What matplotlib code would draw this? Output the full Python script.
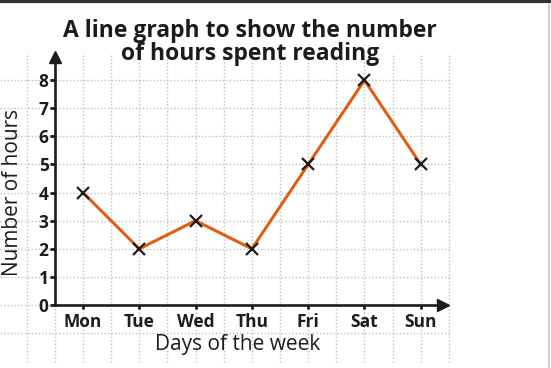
import matplotlib.pyplot as plt
from matplotlib.lines import Line2D

days = ["Mon", "Tue", "Wed", "Thu", "Fri", "Sat", "Sun"]
hours = [4, 2, 3, 2, 5, 8, 5]
y_ticks = [0, 1, 2, 3, 4, 5, 6, 7, 8]

plt.rcParams['font.family'] = ['Open Sans', 'DejaVu Sans']
ink = '#1c1c1c'

fig = plt.figure(figsize=(5.51, 3.68), dpi=100)
ax = fig.add_axes([0, 0, 1, 1])
ax.set_xlim(-1.474, 8.313)
ax.set_ylim(-2.242, 10.854)
ax.patch.set_alpha(0)

# dotted squared paper behind the graph
grid_kw = dict(color='#c0c0c0', linestyle=(0, (1, 1.5)), linewidth=1, zorder=0)
for gy in range(-1, 9):
    ax.plot([-1.474, 6.5], [gy, gy], **grid_kw)
for k in range(16):
    gx = -1 + 0.5 * k
    ax.plot([gx, gx], [-2.03, 8.97], **grid_kw)

# axes with arrows
for s in ['top', 'right']:
    ax.spines[s].set_visible(False)
ax.spines['left'].set_position(('data', -0.5))
ax.spines['left'].set_bounds(0, 8.8)
ax.spines['bottom'].set_position(('data', 0))
ax.spines['bottom'].set_bounds(-0.5, 6.35)
for s in ['left', 'bottom']:
    ax.spines[s].set_linewidth(1.9)
    ax.spines[s].set_color(ink)
ax.plot(-0.5, 8.81, marker='^', ms=9, color=ink, clip_on=False, zorder=5)
ax.plot(6.40, 0, marker='>', ms=9, color=ink, clip_on=False, zorder=5)

ax.set_xticks(range(len(days)), days)
ax.set_yticks(y_ticks)
ax.tick_params(axis='x', direction='out', length=3, width=2, pad=2.5, colors=ink, labelsize=12.5)
ax.tick_params(axis='y', direction='out', length=3.5, width=2, pad=1, colors=ink, labelsize=12.5)
for lab in ax.get_xticklabels() + ax.get_yticklabels():
    lab.set_fontweight('bold')

# data line
ax.plot(range(len(days)), hours, color='#e25d10', linewidth=2.2, zorder=3)
ax.plot(range(len(days)), hours, linestyle='none', marker='x', ms=9, mew=1.6, color=ink, zorder=4)

fig.text(0.454, 0.885, "A line graph to show the number\nof hours spent reading",
         ha='center', va='center', fontsize=16.5, fontweight='bold', color=ink, linespacing=0.95)
ax.text(2.75, -1.42, "Days of the week", ha='center', va='center', fontsize=15, color=ink)
ax.text(-1.25, 4, "Number of hours", ha='center', va='center', rotation=90, fontsize=15, color=ink)

# screenshot frame
fig.add_artist(Line2D([0, 1], [0.996, 0.996], transform=fig.transFigure, color='#333333', linewidth=3))
fig.add_artist(Line2D([0.9955, 0.9955], [0, 0.99], transform=fig.transFigure, color='#cfcfcf', linewidth=1.5))

fig.savefig('out.png', dpi=100)
